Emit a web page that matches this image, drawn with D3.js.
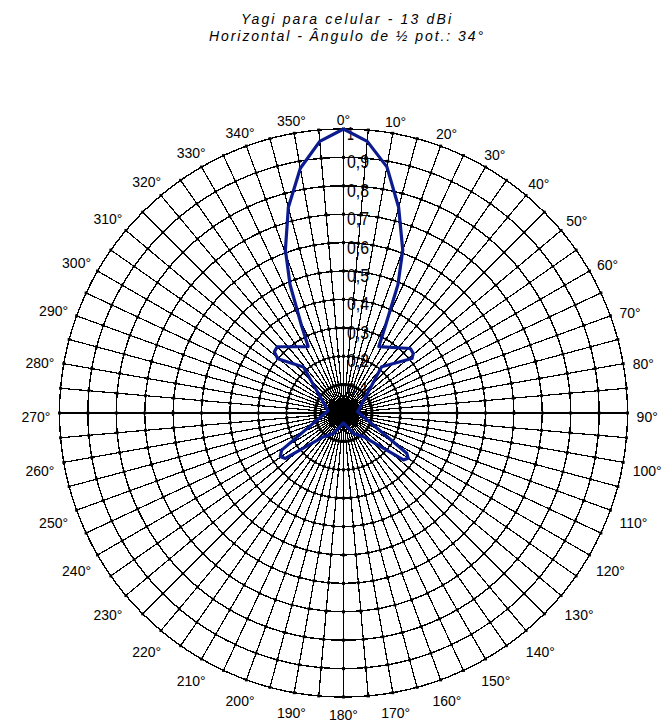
<!DOCTYPE html>
<html>
<head>
<meta charset="utf-8">
<script src="https://cdn.jsdelivr.net/npm/d3@7"></script>
<style>
  html, body { margin: 0; padding: 0; background: #fff; }
  svg { display: block; }
</style>
</head>
<body>
<svg id="chart" width="665" height="726"></svg>
<script>
// Title lines
const titleLines = ["Yagi para celular - 13 dBi", "Horizontal - Ângulo de ½ pot.: 34°"];

// Angular tick labels, every 10 degrees, clockwise from north
const angleTickDeg = d3.range(0, 360, 10);
const angleTickLabels = angleTickDeg.map(d => d + "°");

// Radial rings and their labels
const ringValues = [0.1, 0.2, 0.3, 0.4, 0.5, 0.6, 0.7, 0.8, 0.9, 1.0];
const ringLabels = ["0,1", "0,2", "0,3", "0,4", "0,5", "0,6", "0,7", "0,8", "0,9", "1"];

// Spokes every 5 degrees
const spokeDeg = d3.range(0, 360, 5);

// Horizontal radiation pattern (relative field), traced in drawing order
const patternAngle = [0, 5, 10, 15, 20, 23, 25.7, 28, 46, 49.5, 51.5, 39.5, 85,
  122.5, 125, 128, 140, 154, 180, 206, 220, 232, 235.5, 239, 278,
  319, 309.5, 311.5, 315, 332, 334.3, 337.4, 340.4, 345, 350, 355, 360];
const patternValue = [1.00, 0.96, 0.88, 0.75, 0.61, 0.49, 0.34, 0.265, 0.327, 0.323, 0.308, 0.211, 0.05,
  0.264, 0.278, 0.268, 0.109, 0.08, 0.035, 0.08, 0.109, 0.26, 0.27, 0.254, 0.055,
  0.215, 0.30, 0.325, 0.33, 0.265, 0.34, 0.49, 0.61, 0.75, 0.875, 0.96, 1.00];

const svg = d3.select("#chart");
const cx = 343.5, cy = 413, outerR = 284;

const r = d3.scaleLinear().domain([0, 1]).range([0, outerR]);
const rad = d => d * Math.PI / 180;

// Title
svg.append("g")
  .selectAll("text")
  .data(titleLines)
  .join("text")
  .attr("x", 346)
  .attr("y", (d, i) => 24 + i * 17)
  .attr("text-anchor", "middle")
  .attr("font-family", "Liberation Sans, Arial, sans-serif")
  .attr("font-style", "italic")
  .attr("font-size", 14)
  .attr("textLength", (d, i) => i === 0 ? 210 : 274)
  .attr("lengthAdjust", "spacing")
  .attr("fill", "#000")
  .text(d => d);

const g = svg.append("g").attr("transform", `translate(${cx},${cy})`);

// Rings
g.append("g")
  .selectAll("circle")
  .data(ringValues)
  .join("circle")
  .attr("r", d => r(d))
  .attr("fill", "none")
  .attr("stroke", "#000")
  .attr("stroke-width", 1.4)
  .attr("shape-rendering", "crispEdges");

// Spokes
g.append("g")
  .selectAll("line")
  .data(spokeDeg)
  .join("line")
  .attr("x1", 0).attr("y1", 0)
  .attr("x2", d => r(1) * Math.sin(rad(d)))
  .attr("y2", d => -r(1) * Math.cos(rad(d)))
  .attr("stroke", "#000")
  .attr("stroke-width", 1.2)
  .attr("shape-rendering", "crispEdges");

// Small marks where spokes meet rings
const crossings = [];
ringValues.forEach(v => spokeDeg.forEach(a => crossings.push({v, a})));
g.append("g")
  .selectAll("rect")
  .data(crossings)
  .join("rect")
  .attr("x", d => r(d.v) * Math.sin(rad(d.a)) - 1.5)
  .attr("y", d => -r(d.v) * Math.cos(rad(d.a)) - 1.5)
  .attr("width", 3).attr("height", 3)
  .attr("fill", "#000");

// Ring value labels along the 0° spoke
g.append("g")
  .selectAll("text")
  .data(ringValues)
  .join("text")
  .attr("x", 3.5)
  .attr("y", d => -r(d) + 11)
  .attr("font-family", "Liberation Sans, Arial, sans-serif")
  .attr("font-size", 19)
  .attr("textLength", (d, i) => ringLabels[i].length > 1 ? 22 : 7)
  .attr("lengthAdjust", "spacingAndGlyphs")
  .attr("fill", "#000")
  .text((d, i) => ringLabels[i]);

// Angle labels around the outside
const labelFont = 14;
const angLayer = g.append("g")
  .attr("font-family", "Liberation Sans, Arial, sans-serif")
  .attr("font-size", labelFont)
  .attr("fill", "#000");
angLayer.selectAll("text")
  .data(angleTickDeg)
  .join("text")
  .each(function(d, i) {
    const s = Math.sin(rad(d)), c = Math.cos(rad(d));
    const label = angleTickLabels[i];
    const w = label.length * 7.8;
    const h = 11;
    const extra = Math.abs(s) * w / 2 + Math.abs(c) * h / 2;
    const R = r(1) + 8 + extra;
    d3.select(this)
      .attr("x", R * s)
      .attr("y", -R * c + 4)
      .attr("text-anchor", "middle")
      .attr("dominant-baseline", "central")
      .text(label);
  });

// Pattern trace
const line = d3.lineRadial()
  .angle((d, i) => rad(patternAngle[i]))
  .radius((d, i) => r(patternValue[i]))
  .curve(d3.curveLinear);

g.append("path")
  .datum(patternAngle)
  .attr("d", line)
  .attr("fill", "none")
  .attr("stroke", "#0b1b8e")
  .attr("stroke-width", 3.2)
  .attr("stroke-linejoin", "round");
</script>
</body>
</html>
